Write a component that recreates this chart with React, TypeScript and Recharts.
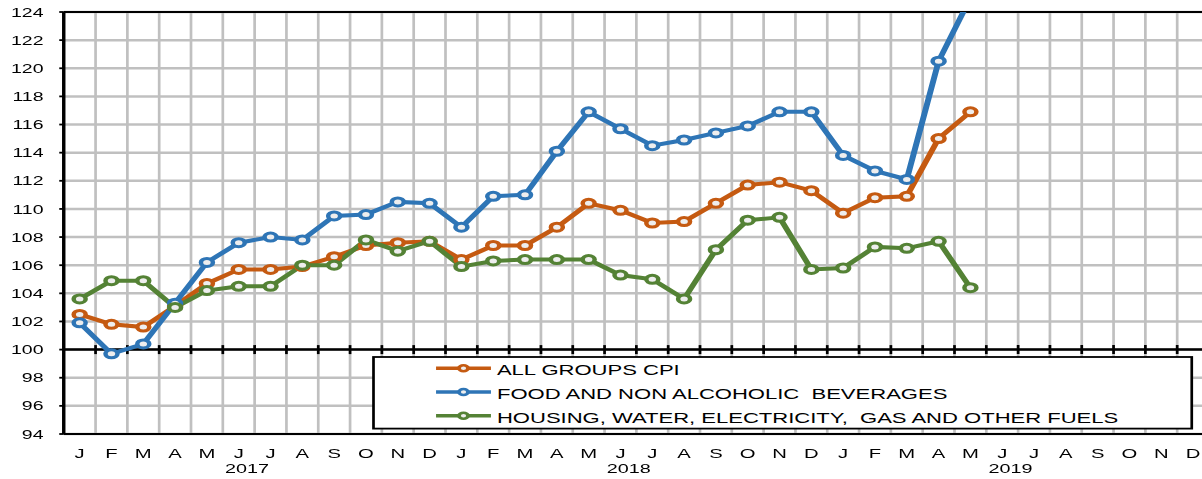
import React from 'react';
import { LineChart, Line, XAxis, YAxis, CartesianGrid, ReferenceLine, Legend } from 'recharts';

// ---------- data ----------
const MONTHS = ['J', 'F', 'M', 'A', 'M', 'J', 'J', 'A', 'S', 'O', 'N', 'D'];
const YEARS = ['2017', '2018', '2019'];
const Y_TICKS = [94, 96, 98, 100, 102, 104, 106, 108, 110, 112, 114, 116, 118, 120, 122, 124];

const ALL_GROUPS_CPI = [
  102.5, 101.8, 101.6, 103.1, 104.7, 105.7, 105.7, 105.9, 106.6, 107.4, 107.6, 107.7,
  106.4, 107.4, 107.4, 108.7, 110.4, 109.9, 109.0, 109.1, 110.4, 111.7, 111.9, 111.3,
  109.7, 110.8, 110.9, 115.0, 116.9,
];
const FOOD_BEVERAGES = [
  101.9, 99.7, 100.4, 103.3, 106.2, 107.6, 108.0, 107.8, 109.5, 109.6, 110.5, 110.4,
  108.7, 110.9, 111.0, 114.1, 116.9, 115.7, 114.5, 114.9, 115.4, 115.9, 116.9, 116.9,
  113.8, 112.7, 112.1, 120.5, 125.0,
];
const HOUSING_FUELS = [
  103.6, 104.9, 104.9, 103.0, 104.2, 104.5, 104.5, 106.0, 106.0, 107.8, 107.0, 107.7,
  105.9, 106.3, 106.4, 106.4, 106.4, 105.3, 105.0, 103.6, 107.1, 109.2, 109.4, 105.7,
  105.8, 107.3, 107.2, 107.7, 104.4,
];

const SERIES = [
  { key: 'cpi', name: 'ALL GROUPS CPI', color: '#C55A11', values: ALL_GROUPS_CPI },
  { key: 'food', name: 'FOOD AND NON ALCOHOLIC  BEVERAGES', color: '#2E75B6', values: FOOD_BEVERAGES },
  { key: 'housing', name: 'HOUSING, WATER, ELECTRICITY,  GAS AND OTHER FUELS', color: '#548235', values: HOUSING_FUELS },
];

const data = YEARS.flatMap((y, yi) =>
  MONTHS.map((m, mi) => {
    const i = yi * 12 + mi;
    const row: Record<string, any> = { key: `${y}-${mi}` };
    SERIES.forEach((s) => {
      row[s.key] = s.values[i] ?? null;
    });
    return row;
  })
);

// ---------- styling ----------
const FONT = '"Liberation Sans", Arial, Helvetica, sans-serif';
const SX = 1.5;
const CHART_W = 807;
const CHART_H = 479;
const GRID = '#c0c0c0';

const XTick = (props: any) => {
  const { x, y, payload } = props;
  const [yr, mo] = String(payload.value).split('-');
  const mi = Number(mo);
  return (
    <g>
      <text x={x} y={y} dy={24} textAnchor="middle" fontSize={13.5} fontFamily={FONT} fill="#000">
        {MONTHS[mi]}
      </text>
      {mi === 5 && (
        <text x={x + 5.5} y={y} dy={39} textAnchor="middle" fontSize={13.2} fontFamily={FONT} fill="#000">
          {yr}
        </text>
      )}
    </g>
  );
};

const LegendBox = () => {
  const rows = [12.3, 36, 59.8];
  return (
    <svg width={548} height={76} style={{ display: 'block', overflow: 'visible' }}>
      <rect x={1} y={1} width={545.5} height={71.6} fill="#fff" stroke="#000" strokeWidth={1.8} />
      {SERIES.map((s, i) => (
        <g key={s.key}>
          <line x1={42.7} x2={79.3} y1={rows[i]} y2={rows[i]} stroke={s.color} strokeWidth={3.5} />
          <circle cx={61} cy={rows[i]} r={3} fill="#eeeeee" stroke={s.color} strokeWidth={2.5} />
          <text
            x={83.3}
            y={rows[i] + 7.2}
            fontSize={14.7}
            fontFamily={FONT}
            fill="#000"
            style={{ whiteSpace: 'pre' }}
          >
            {s.name}
          </text>
        </g>
      ))}
    </svg>
  );
};

export default function App() {
  const keys = data.map((d) => d.key);
  return (
    <div style={{ position: 'absolute', left: 0, top: 0, width: 1202, height: 479, overflow: 'hidden', background: '#fff' }}>
      <div style={{ width: CHART_W, height: CHART_H, transform: `scaleX(${SX})`, transformOrigin: '0 0' }}>
        <LineChart width={CHART_W} height={CHART_H} data={data} margin={{ top: 12, right: 1, bottom: 0, left: 0.5 }}>
          <CartesianGrid vertical={false} stroke={GRID} strokeWidth={2.5} />
          {keys.slice(1).map((k) => (
            <ReferenceLine key={`g-${k}`} x={k} position="start" stroke={GRID} strokeWidth={1.8} />
          ))}
          <ReferenceLine x={keys[keys.length - 1]} position="end" stroke={GRID} strokeWidth={1.8} />
          <ReferenceLine y={124} stroke="#000" strokeWidth={2} />
          <ReferenceLine y={100} stroke="#000" strokeWidth={2.5} />
          {keys.slice(1).map((k) => (
            <ReferenceLine
              key={`t-${k}`}
              position="start"
              segment={[{ x: k, y: 100.32 }, { x: k, y: 99.68 }]}
              stroke="#000"
              strokeWidth={1.8}
            />
          ))}
          <XAxis
            dataKey="key"
            type="category"
            scale="band"
            interval={0}
            height={45}
            tickSize={0}
            tickMargin={0}
            tickLine={false}
            axisLine={{ stroke: '#000', strokeWidth: 2 }}
            tick={<XTick />}
          />
          <YAxis
            domain={[94, 124]}
            ticks={Y_TICKS}
            tickCount={16}
            allowDataOverflow
            interval={0}
            width={42}
            tickSize={3}
            tickMargin={10.5}
            axisLine={{ stroke: '#000', strokeWidth: 2.3 }}
            tickLine={{ stroke: '#000', strokeWidth: 1.8 }}
            tick={{ fontSize: 13, fill: '#000', fontFamily: FONT }}
          />
          {SERIES.map((s) => (
            <Line
              key={s.key}
              dataKey={s.key}
              name={s.name}
              type="linear"
              stroke={s.color}
              strokeWidth={4}
              dot={{ r: 4, strokeWidth: 3, fill: '#eeeeee', stroke: s.color }}
              activeDot={false}
              isAnimationActive={false}
              connectNulls={false}
            />
          ))}
          <Legend
            layout="vertical"
            align="center"
            verticalAlign="middle"
            content={<LegendBox />}
            wrapperStyle={{ left: 247.8, top: 355.7, width: 548, height: 76 }}
          />
        </LineChart>
      </div>
    </div>
  );
}
